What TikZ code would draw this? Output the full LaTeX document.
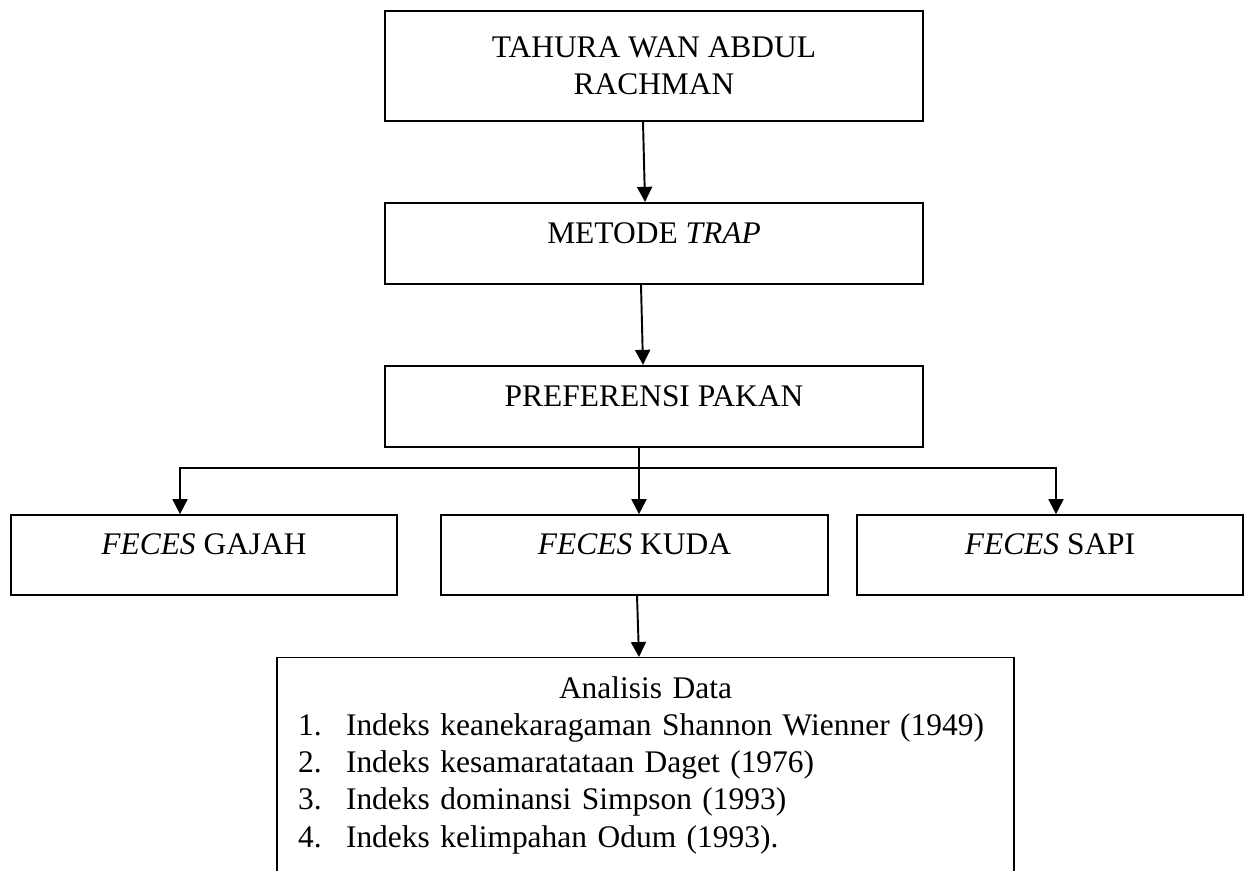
\documentclass[tikz,border=0pt]{standalone}
\usepackage{fontspec}
\setmainfont{Liberation Serif}
\usetikzlibrary{arrows.meta}
\tikzset{
  boxnode/.style = {rectangle, draw=black, align=center, inner sep=0pt,
    font=\fontsize{17.9}{21.2}\selectfont},
  oneline/.style = {text height=0.7em, text depth=0.75em},
  stagebox/.style = {boxnode, line width=1.3pt, minimum width=10.76cm},
  fecesbox/.style = {boxnode, oneline, line width=1pt, minimum width=7.73cm,
    minimum height=1.6cm},
  listbox/.style = {boxnode, line width=0.8pt, align=left, text width=14.74cm,
    inner ysep=0.37cm, anchor=north},
}

\begin{document}
\begin{tikzpicture}[x=0.02cm,y=-0.02cm,>={Triangle[length=0.3cm,width=0.3cm]},line width=1.1pt]
\useasboundingbox (0,0) rectangle (1247,870);
\node [stagebox, minimum height=2.2cm] (tahura) at (654,66) {TAHURA WAN ABDUL\\RACHMAN};
\node [stagebox, oneline, minimum height=1.62cm] (metode) at (654,243.5) {METODE \textit{TRAP}};
\node [stagebox, oneline, minimum height=1.62cm] (pakan) at (654,406.5) {PREFERENSI PAKAN};
\node [fecesbox] (gajah) at (204,555) {\textit{FECES} GAJAH};
\node [fecesbox] (kuda) at (634.5,555) {\textit{FECES} KUDA};
\node [fecesbox] (sapi) at (1050,555) {\textit{FECES} SAPI};
\node [listbox] (analisis) at (645.5,657) {\makebox[14.74cm]{Analisis Data}\\
  \hspace*{0.42cm}\makebox[0.96cm][l]{1.}Indeks keanekaragaman Shannon Wienner (1949)\\
  \hspace*{0.42cm}\makebox[0.96cm][l]{2.}Indeks kesamaratataan Daget (1976)\\
  \hspace*{0.42cm}\makebox[0.96cm][l]{3.}Indeks dominansi Simpson (1993)\\
  \hspace*{0.42cm}\makebox[0.96cm][l]{4.}Indeks kelimpahan Odum (1993).\\
  \mbox{}};
% alur utama
\draw [->] ([xshift=-0.22cm]tahura.south) -- ([xshift=-0.18cm]metode.north);
\draw [->] ([xshift=-0.26cm]metode.south) -- ([xshift=-0.22cm]pakan.north);
\coordinate (split) at ([xshift=-0.3cm,yshift=-0.4cm]pakan.south);
\draw [->] ([xshift=-0.3cm]pakan.south) -- ([xshift=0.09cm]kuda.north);
\draw [->, line width=1pt] (split) -| ([xshift=-0.48cm]gajah.north);
\draw [->, line width=1pt] (split) -| ([xshift=0.12cm]sapi.north);
\draw [->] ([xshift=0.05cm]kuda.south) -- ([xshift=-0.13cm]analisis.north);
\end{tikzpicture}
\end{document}
